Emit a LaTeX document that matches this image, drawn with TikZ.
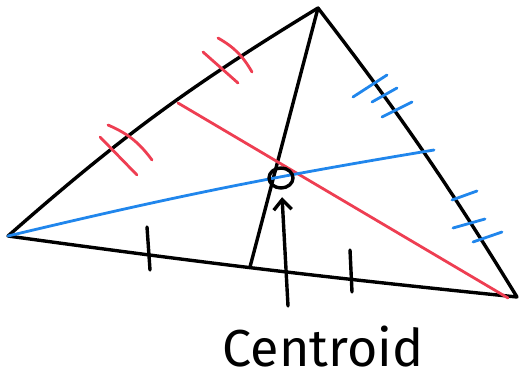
\documentclass[tikz,border=0pt]{standalone}
\usepackage{fontspec}
\newfontfamily\handfont{Fira Sans}
\usetikzlibrary{arrows.meta,calc}
\definecolor{medred}{RGB}{238,62,82}
\definecolor{medblue}{RGB}{32,134,236}
\begin{document}
\begin{tikzpicture}[x=1pt,y=-1pt,line cap=round,line join=round,
  side/.style={line width=3.4pt,black},
  redline/.style={line width=2.8pt,medred},
  blueline/.style={line width=2.8pt,medblue}]
\useasboundingbox (0,0) rectangle (519,385);
% vertices, midpoints, centroid
\coordinate (L) at (8,236);
\coordinate (T) at (318,8);
\coordinate (R) at (517,297);
\coordinate (mLT) at (178,103);
\coordinate (mTR) at (434,150);
\coordinate (mLR) at (250,267);
\coordinate (redend) at (508,298);
\coordinate (G) at (281,178);
\coordinate (foot) at (288,306);
% sides
\draw[side] (L) to[bend left=5] (T) to[bend left=3] (R) to[bend left=1] (L);
% medians
\draw[side] (T) -- (mLR);
\draw[redline] (mLT) -- (redend);
\draw[blueline] (L) to[bend left=2] (mTR);
% ticks
\draw[redline] (100,137) -- (137,175);
\draw[redline] (108,125) to[bend left=15] (152,160);
\draw[redline] (203,52) -- (238,83);
\draw[redline] (218,38) to[bend left=15] (252,72);
\draw[blueline] (353,97) -- (387,75);
\draw[blueline] (372,102) -- (397,88);
\draw[blueline] (382,117) -- (412,102);
\draw[blueline] (452,200) -- (477,191);
\draw[blueline] (453,228) -- (485,219);
\draw[blueline] (473,242) -- (502,232);
\draw[side] (147,227) -- (150,270);
\draw[side] (350,250) -- (352,292);
% centroid
\draw[side] (G) ellipse (12pt and 10pt);
\node[font=\handfont\fontsize{52}{52}\selectfont,anchor=base,inner sep=0pt] (lbl) at (323,366) {Centroid};
\draw[side,-{Straight Barb[length=10pt,width=18pt]}] (foot) -- ($(foot)!0.85!(G)$);
\end{tikzpicture}
\end{document}
